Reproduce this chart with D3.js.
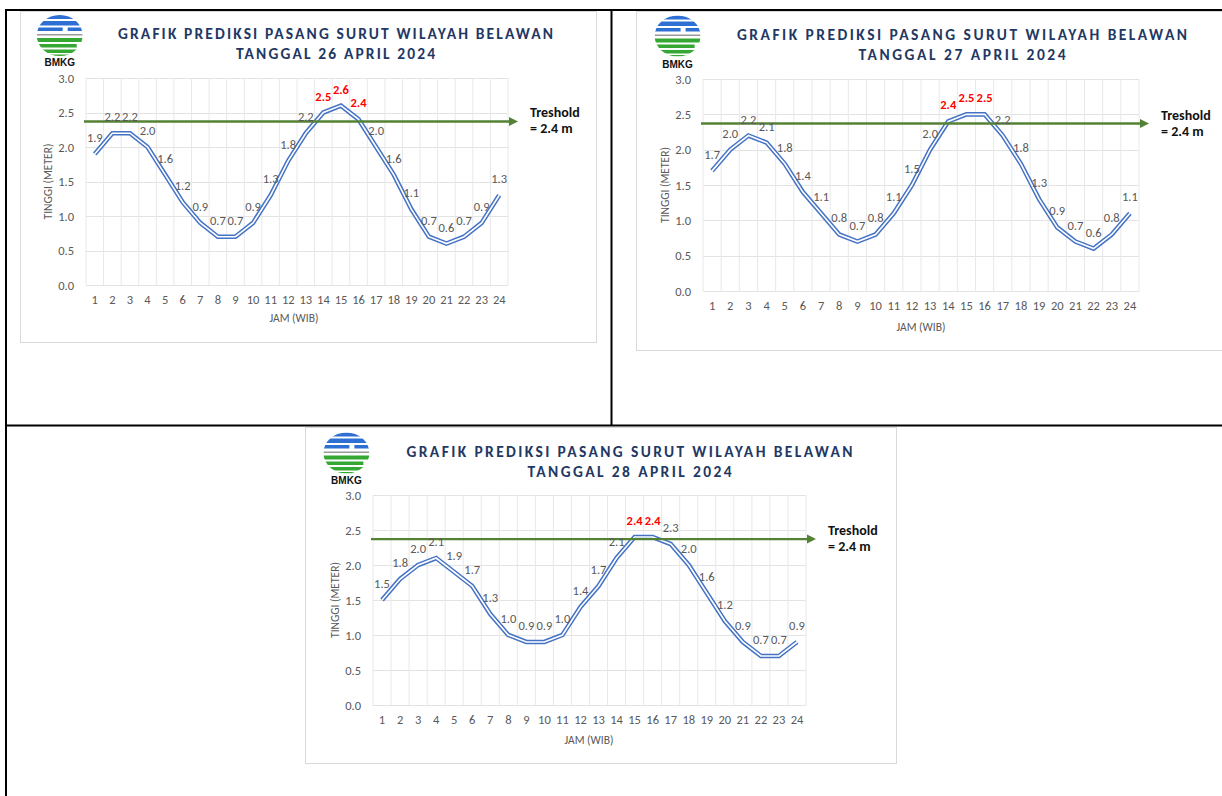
<!DOCTYPE html>
<html>
<head>
<meta charset="utf-8">
<script src="https://cdn.jsdelivr.net/npm/d3@7"></script>
<style>
body { margin: 0; background: #fff; }
svg text { font-family: Carlito, "Liberation Sans", Arial, sans-serif; }
</style>
</head>
<body>
<svg width="1222" height="796"></svg>
<script>
// hours on the x axis
const hours = [1, 2, 3, 4, 5, 6, 7, 8, 9, 10, 11, 12, 13, 14, 15, 16, 17, 18, 19, 20, 21, 22, 23, 24];
const yTicks = [0, 0.5, 1, 1.5, 2, 2.5, 3];

// predicted tide height (m) per hour
const tide26 = [1.9, 2.2, 2.2, 2.0, 1.6, 1.2, 0.9, 0.7, 0.7, 0.9, 1.3, 1.8, 2.2, 2.5, 2.6, 2.4, 2.0, 1.6, 1.1, 0.7, 0.6, 0.7, 0.9, 1.3];
const tide27 = [1.7, 2.0, 2.2, 2.1, 1.8, 1.4, 1.1, 0.8, 0.7, 0.8, 1.1, 1.5, 2.0, 2.4, 2.5, 2.5, 2.2, 1.8, 1.3, 0.9, 0.7, 0.6, 0.8, 1.1];
const tide28 = [1.5, 1.8, 2.0, 2.1, 1.9, 1.7, 1.3, 1.0, 0.9, 0.9, 1.0, 1.4, 1.7, 2.1, 2.4, 2.4, 2.3, 2.0, 1.6, 1.2, 0.9, 0.7, 0.7, 0.9];

const dates = ["26 APRIL 2024", "27 APRIL 2024", "28 APRIL 2024"];
const titleText = "GRAFIK PREDIKSI PASANG SURUT WILAYAH BELAWAN";
const thresholdValue = 2.4;   // value in the label, red labels from here up
const thresholdLevel = 2.37;  // where the arrow sits in the picture

const blue = "#4472c4", green = "#548235", grey = "#595959", navy = "#1f3864";

// panel placement on the page
const panels = [
	{ data: tide26, date: dates[0], box: [20, 11, 576, 331], plot: [86, 508, 78, 285],
	  logo: [59.7, 15, 66], titleX: 335.5, titleY: [39.3, 59.3], titleW: [435, 199], xTitle: [294, 322] },
	{ data: tide27, date: dates[1], box: [636, 11, 620, 339], plot: [703, 1139, 79, 291],
	  logo: [677.6, 15.5, 68.3], titleX: 962, titleY: [40, 60], titleW: [450, 207], xTitle: [921, 331] },
	{ data: tide28, date: dates[2], box: [305, 427, 591, 336], plot: [373, 806, 495, 705],
	  logo: [346.4, 432.5, 484.3], titleX: 629.5, titleY: [457.3, 476.6], titleW: [446, 204], xTitle: [589, 744] }
];

const svg = d3.select("svg");

// page table borders
const borders = [
	[5, 10, 1222, 10],
	[6, 10, 6, 796],
	[611.5, 10, 611.5, 425],
	[6, 425.5, 1222, 425.5]
];
svg.append("g").selectAll("line").data(borders).join("line")
	.attr("x1", d => d[0]).attr("y1", d => d[1])
	.attr("x2", d => d[2]).attr("y2", d => d[3])
	.attr("stroke", "#000").attr("stroke-width", 2);

function drawLogo(g, cx, top, baseline) {
	const id = "clip" + Math.round(cx);
	g.append("clipPath").attr("id", id)
		.append("ellipse").attr("cx", cx).attr("cy", top + 20.5).attr("rx", 23).attr("ry", 20.5);
	const lg = g.append("g").attr("clip-path", "url(#" + id + ")");
	const bands = [
		[0, 4, "#2d6fd2", 0, 46], [6, 10.5, "#2d6fd2", 0, 46],
		[12.5, 16, "#2d6fd2", 0, 26], [12.5, 16, "#2d6fd2", 31, 46],
		[19, 20.5, "#9a9a9a", 0, 46],
		[23, 27, "#35a834", 0, 46], [29, 32.5, "#35a834", 0, 40],
		[34.5, 38, "#35a834", 6, 46], [39.5, 41, "#35a834", 10, 36]
	];
	lg.selectAll("rect").data(bands).join("rect")
		.attr("x", d => cx - 23 + d[3]).attr("width", d => d[4] - d[3])
		.attr("y", d => top + d[0]).attr("height", d => d[1] - d[0])
		.attr("fill", d => d[2]);
	g.append("text").attr("x", cx).attr("y", baseline)
		.attr("text-anchor", "middle").attr("font-weight", "bold")
		.attr("font-size", 10).style("font-family", "'Liberation Sans', Arial, sans-serif")
		.attr("fill", "#111").text("BMKG");
}

function drawPanel(p) {
	const g = svg.append("g");
	const [left, right, top, bottom] = p.plot;

	g.append("rect")
		.attr("x", p.box[0] + 0.5).attr("y", p.box[1] + 0.5)
		.attr("width", p.box[2]).attr("height", p.box[3])
		.attr("fill", "#fff").attr("stroke", "#d9d9d9");

	const x = d3.scaleBand().domain(hours).range([left, right]);
	const y = d3.scaleLinear().domain([0, 3]).range([bottom, top]);
	const cx = h => x(h) + x.bandwidth() / 2;

	// gridlines
	g.append("g").selectAll("line").data(yTicks).join("line")
		.attr("x1", left).attr("x2", right)
		.attr("y1", d => Math.round(y(d)) + 0.5).attr("y2", d => Math.round(y(d)) + 0.5)
		.attr("stroke", "#e3e3e3");
	g.append("g").selectAll("line").data(hours.concat(["end"])).join("line")
		.attr("x1", d => d === "end" ? right : x(d))
		.attr("x2", d => d === "end" ? right : x(d))
		.attr("y1", top).attr("y2", bottom)
		.attr("stroke", "#e8e8e8");

	// axes
	const yAxis = g.append("g").attr("transform", "translate(" + left + ",0)")
		.call(d3.axisLeft(y).tickValues(yTicks).tickFormat(d3.format(".1f")).tickSize(0).tickPadding(12));
	const xAxis = g.append("g").attr("transform", "translate(0," + bottom + ")")
		.call(d3.axisBottom(x).tickSize(0).tickPadding(10));
	[yAxis, xAxis].forEach(a => {
		a.select(".domain").remove();
		a.selectAll("text").attr("fill", grey).attr("font-size", 12.5)
			.style("font-family", "Carlito, 'Liberation Sans', Arial, sans-serif");
	});

	g.append("text")
		.attr("transform", "translate(" + (left - 38) + "," + ((top + bottom) / 2) + ") rotate(-90)")
		.attr("text-anchor", "middle").attr("dy", "0.35em")
		.attr("font-size", 11.5).attr("fill", grey).text("TINGGI (METER)");
	g.append("text").attr("x", p.xTitle[0]).attr("y", p.xTitle[1])
		.attr("text-anchor", "middle").attr("font-size", 11.5).attr("fill", grey).text("JAM (WIB)");

	// tide line, Excel style double stroke
	const line = d3.line().x((d, i) => cx(hours[i])).y(d => y(d));
	g.append("path").attr("d", line(p.data)).attr("fill", "none")
		.attr("stroke", blue).attr("stroke-width", 4.6).attr("stroke-linejoin", "miter");
	g.append("path").attr("d", line(p.data)).attr("fill", "none")
		.attr("stroke", "#fff").attr("stroke-width", 1.6).attr("stroke-linejoin", "miter");

	// threshold arrow
	const ty = y(thresholdLevel);
	const tipX = right + 10;
	g.append("line").attr("x1", left - 2).attr("x2", tipX - 6)
		.attr("y1", ty).attr("y2", ty)
		.attr("stroke", green).attr("stroke-width", 2.4);
	g.append("path")
		.attr("d", "M" + tipX + "," + ty + "L" + (tipX - 9) + "," + (ty - 4.5) + "L" + (tipX - 9) + "," + (ty + 4.5) + "Z")
		.attr("fill", green);
	g.append("text").attr("x", right + 22).attr("y", ty - 4)
		.attr("font-size", 14).attr("font-weight", "bold").attr("fill", "#111")
		.text("Treshold");
	g.append("text").attr("x", right + 22).attr("y", ty + 12)
		.attr("font-size", 14).attr("font-weight", "bold").attr("fill", "#111")
		.text("= " + thresholdValue.toFixed(1) + " m");

	// data labels
	g.append("g").selectAll("text").data(p.data).join("text")
		.attr("x", (d, i) => cx(hours[i]))
		.attr("y", d => y(d) - 12)
		.attr("text-anchor", "middle")
		.attr("font-size", 12.5)
		.attr("font-weight", d => d >= thresholdValue ? "bold" : "normal")
		.attr("fill", d => d >= thresholdValue ? "#ff0000" : grey)
		.text(d => d.toFixed(1));

	// title
	g.append("text").attr("x", p.titleX).attr("y", p.titleY[0])
		.attr("text-anchor", "middle").attr("font-size", 15.5).attr("font-weight", "bold")
		.attr("fill", navy).attr("textLength", p.titleW[0]).attr("lengthAdjust", "spacing")
		.text(titleText);
	g.append("text").attr("x", p.titleX).attr("y", p.titleY[1])
		.attr("text-anchor", "middle").attr("font-size", 15.5).attr("font-weight", "bold")
		.attr("fill", navy).attr("textLength", p.titleW[1]).attr("lengthAdjust", "spacing")
		.text("TANGGAL " + p.date);

	drawLogo(g, p.logo[0], p.logo[1], p.logo[2]);
}

panels.forEach(drawPanel);
</script>
</body>
</html>
